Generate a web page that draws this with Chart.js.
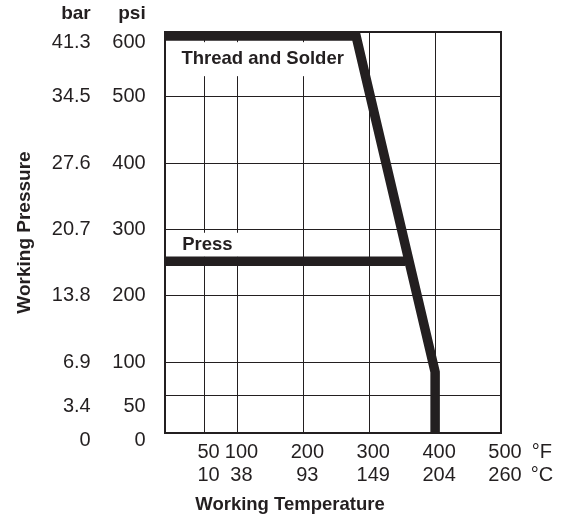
<!DOCTYPE html>
<html><head><meta charset="utf-8">
<script src="https://cdn.jsdelivr.net/npm/chart.js@4.4.1/dist/chart.umd.min.js"></script>
<style>html,body{margin:0;padding:0;background:#fff}canvas{display:block}</style>
</head><body>
<canvas id="c" width="562" height="520"></canvas>
<script>
// ---- data ----
const psiTicks   = [0, 50, 100, 200, 300, 400, 500, 600];
const barTicks   = ['0', '3.4', '6.9', '13.8', '20.7', '27.6', '34.5', '41.3'];
const tempFTicks = [50, 100, 200, 300, 400, 500];
const tempCTicks = ['10', '38', '93', '149', '204', '260'];

const threadTempF = [-10, 280, 400, 400];
const threadPsi   = [592, 592, 85, -7];
const pressTempF  = [-10, 355];
const pressPsi    = [252, 252];

const noteTexts = ['Thread and Solder', 'Press'];
const noteTempF = [15, 16];
const notePsi   = [557, 277];

// ---- layout / style constants ----
const INK = '#231f20';
const FAMILY = "'Liberation Sans', Arial, Helvetica, sans-serif";
const X_MIN = -10, X_MAX = 500, Y_MIN = -7, Y_MAX = 598;
const HEADER_VALUE = 625;  // row of the "bar"/"psi" headers
const UNIT_VALUE = 556;    // column of the °F/°C unit labels
const SHIFTED = [0, 50, 600];
const CLEAR = 'rgba(0,0,0,0)';

const tickFont = (ctx) => {
  const head = ctx.tick && ctx.tick.value === HEADER_VALUE;
  return {family: FAMILY, size: head ? 19 : 20, lineHeight: head ? 1.2 : 1.165, weight: head ? 'bold' : 'normal'};
};
const yTickList = (axis) => { axis.ticks = psiTicks.concat([HEADER_VALUE]).map(v => ({value: v})); };
const shift = (v, s) => SHIFTED.includes(v) ? ['', s] : s;

const notesPlugin = {
  id: 'notes',
  beforeDatasetsDraw(chart, args, opts) {
    const {ctx, scales: {x, y}} = chart;
    ctx.save();
    ctx.font = 'bold 18.5px ' + FAMILY;
    ctx.textBaseline = 'middle';
    ctx.textAlign = 'left';
    noteTexts.forEach((t, i) => {
      const px = x.getPixelForValue(noteTempF[i]);
      const py = y.getPixelForValue(notePsi[i]);
      const w = ctx.measureText(t).width;
      ctx.fillStyle = '#fff';
      ctx.fillRect(px - 9, py - opts.padY[i], w + 18, opts.padY[i] * 2);
      ctx.fillStyle = INK;
      ctx.fillText(t, px, py);
    });
    ctx.restore();
  }
};

const lineStyle = {
  borderColor: INK, borderWidth: 9.5, pointRadius: 0, pointHoverRadius: 0,
  tension: 0, fill: false, borderJoinStyle: 'miter', borderCapStyle: 'butt',
  xAxisID: 'x', yAxisID: 'y'
};

new Chart(document.getElementById('c'), {
  type: 'line',
  data: {
    datasets: [
      Object.assign({label: 'Thread and Solder',
        data: threadTempF.map((t, i) => ({x: t, y: threadPsi[i]}))}, lineStyle),
      Object.assign({label: 'Press',
        data: pressTempF.map((t, i) => ({x: t, y: pressPsi[i]}))}, lineStyle)
    ]
  },
  plugins: [notesPlugin],
  options: {
    responsive: false, animation: false, devicePixelRatio: 1,
    layout: {padding: {left: 18, top: 32, right: 0, bottom: 0}},
    plugins: {
      legend: {display: false},
      tooltip: {enabled: false},
      notes: {padY: [17, 12]},
      title: {
        display: true, text: 'Working Temperature', position: 'bottom', align: 'center',
        color: INK, font: {family: FAMILY, size: 18.5, weight: 'bold', lineHeight: 1.2},
        padding: {top: 0, bottom: 3.9}
      }
    },
    scales: {
      x: {
        type: 'linear', position: 'bottom', min: X_MIN, max: X_MAX,
        afterBuildTicks: (axis) => { axis.ticks = tempFTicks.concat([UNIT_VALUE]).map(v => ({value: v})); },
        afterFit: (axis) => { axis.height = 60.9; },
        ticks: {
          autoSkip: false, maxRotation: 0, minRotation: 0, padding: 8, labelOffset: 4,
          color: INK, font: {family: FAMILY, size: 20, lineHeight: 1.165},
          callback: (v) => v === UNIT_VALUE ? ['°F', '°C'] : [String(v), tempCTicks[tempFTicks.indexOf(v)]]
        },
        grid: {
          drawTicks: false, lineWidth: 1,
          color: (ctx) => (ctx.tick && ctx.tick.value < 500) ? INK : CLEAR
        },
        border: {display: true, width: 2, color: INK}
      },
      xTop: {
        type: 'linear', position: 'top', min: 0, max: 1,
        ticks: {display: false}, grid: {display: false, drawTicks: false},
        border: {display: true, width: 2, color: INK}
      },
      y: {
        type: 'linear', position: 'left', weight: 0, min: Y_MIN, max: Y_MAX,
        afterBuildTicks: yTickList,
        afterFit: (axis) => { axis.width = 55; },
        ticks: {
          autoSkip: false, padding: 0, color: INK, font: tickFont,
          callback: (v) => v === HEADER_VALUE ? 'psi' : shift(v, String(v))
        },
        grid: {
          drawTicks: true, tickLength: 19.3, tickColor: CLEAR, lineWidth: 1,
          color: (ctx) => (ctx.tick && ctx.tick.value > 0 && ctx.tick.value < 600) ? INK : CLEAR
        },
        border: {display: true, width: 2, color: INK}
      },
      yBar: {
        type: 'linear', position: 'left', weight: 1, min: Y_MIN, max: Y_MAX,
        afterBuildTicks: yTickList,
        afterFit: (axis) => { axis.width = 92; },
        ticks: {
          autoSkip: false, padding: 0, color: INK, font: tickFont,
          callback: (v) => v === HEADER_VALUE ? 'bar' : shift(v, barTicks[psiTicks.indexOf(v)])
        },
        grid: {
          display: true, drawOnChartArea: false, drawTicks: true, tickLength: 19.3,
          tickColor: CLEAR, color: CLEAR
        },
        border: {display: false},
        title: {
          display: true, text: 'Working Pressure', color: INK,
          font: {family: FAMILY, size: 19, weight: 'bold', lineHeight: 0.737},
          padding: {top: 0, bottom: 0}
        }
      },
      yR: {
        type: 'linear', position: 'right', min: 0, max: 1,
        afterFit: (axis) => { axis.width = 61; },
        ticks: {display: false}, grid: {display: false, drawTicks: false},
        border: {display: true, width: 2, color: INK}
      }
    }
  }
});
</script>
</body></html>
